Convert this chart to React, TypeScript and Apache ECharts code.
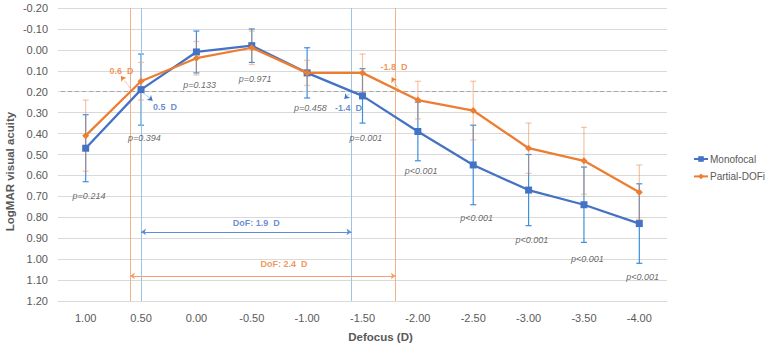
import React, { useEffect, useRef } from "react";
import * as echarts from "echarts";

// Defocus levels (D) and their axis labels
const defocus = [1.0, 0.5, 0.0, -0.5, -1.0, -1.5, -2.0, -2.5, -3.0, -3.5, -4.0];
const defocusLabels = ["1.00", "0.50", "0.00", "-0.50", "-1.00", "-1.50", "-2.00", "-2.50", "-3.00", "-3.50", "-4.00"];

// Mean LogMAR visual acuity and standard deviation per defocus level
const monofocal = [0.47, 0.19, 0.01, -0.02, 0.11, 0.22, 0.39, 0.55, 0.67, 0.74, 0.83];
const monofocalSD = [0.16, 0.17, 0.1, 0.08, 0.12, 0.13, 0.14, 0.19, 0.17, 0.18, 0.19];
const partialDofi = [0.41, 0.15, 0.04, -0.01, 0.11, 0.11, 0.24, 0.29, 0.47, 0.53, 0.68];
const partialDofiSD = [0.17, 0.09, 0.08, 0.08, 0.06, 0.09, 0.09, 0.14, 0.12, 0.16, 0.13];

// Between-group comparison at each defocus level
const pValues = ["p=0.214", "p=0.394", "p=0.133", "p=0.971", "p=0.458", "p=0.001", "p<0.001", "p<0.001", "p<0.001", "p<0.001", "p<0.001"];

// Visual acuity threshold and depth-of-focus limits (D) where each curve crosses it
const threshold = 0.2;
const monofocalLimits = [0.5, -1.4];
const partialDofiLimits = [0.6, -1.8];
const monofocalDoF = 1.9;
const partialDofiDoF = 2.4;

// y-axis range
const yMin = -0.2;
const yMax = 1.2;
const yStep = 0.1;

// ---- layout of annotations (data coordinates) ----
const pLabelY = [0.7, 0.42, 0.17, 0.14, 0.28, 0.42, 0.58, 0.805, 0.91, 1.0, 1.087];
const monoArrowY = 0.87;
const partialArrowY = 1.08;

const BLUE = "#4472C4";
const ORANGE = "#ED7D31";
const GRAY_TEXT = "#595959";
const FONT = "'Liberation Sans', Arial, sans-serif";

function errorBars(name: string, ys: number[], sd: number[], color: string, opacity: number, z: number) {
  return {
    type: "custom",
    name,
    xAxisIndex: 0,
    yAxisIndex: 0,
    silent: true,
    z,
    data: defocus.map((x, i) => [x, ys[i] - sd[i], ys[i] + sd[i]]),
    encode: { x: 0, y: [1, 2] },
    renderItem: (_params: any, api: any) => {
      const x = api.value(0);
      const top = api.coord([x, api.value(1)]);
      const bot = api.coord([x, api.value(2)]);
      const half = 3;
      const style = { stroke: color, lineWidth: 1.2, opacity };
      return {
        type: "group",
        children: [
          { type: "line", shape: { x1: top[0], y1: top[1], x2: bot[0], y2: bot[1] }, style },
          { type: "line", shape: { x1: top[0] - half, y1: top[1], x2: top[0] + half, y2: top[1] }, style },
          { type: "line", shape: { x1: bot[0] - half, y1: bot[1], x2: bot[0] + half, y2: bot[1] }, style },
        ],
      };
    },
  };
}

function vLine(x: number, color: string) {
  return [
    { coord: [x, yMin], symbol: "none", lineStyle: { color, width: 1, type: "solid" } },
    { coord: [x, yMax], symbol: "none" },
  ];
}

function hArrow(x1: number, x2: number, y: number, color: string) {
  return [
    { coord: [x1, y], symbol: "arrow", lineStyle: { color, width: 1, type: "solid" } },
    { coord: [x2, y], symbol: "arrow" },
  ];
}

function pointer(from: number[], to: number[], color: string) {
  return [
    { coord: from, symbol: "none", lineStyle: { color, width: 0.8, type: "dotted" } },
    { coord: to, symbol: "arrow" },
  ];
}

function note(x: number, y: number, text: string, color: string, extra: any = {}) {
  return {
    value: [x, y],
    label: { show: true, formatter: text, color, ...extra },
  };
}

export default function App() {
  const ref = useRef<HTMLDivElement>(null);

  useEffect(() => {
    if (!ref.current) return;
    const chart = echarts.init(ref.current, undefined, { renderer: "svg" });

    const annotations = [
      note(0.677, 0.1, `${partialDofiLimits[0].toFixed(1)}  D`, ORANGE),
      note(0.284, 0.274, `${monofocalLimits[0].toFixed(1)}  D`, BLUE),
      note(-1.373, 0.276, `${monofocalLimits[1].toFixed(1)}  D`, BLUE),
      note(-1.784, 0.083, `${partialDofiLimits[1].toFixed(1)}  D`, ORANGE),
      note(-0.54, 0.829, `DoF: ${monofocalDoF.toFixed(1)}  D`, BLUE),
      note(-0.79, 1.025, `DoF: ${partialDofiDoF.toFixed(1)}  D`, ORANGE),
    ];

    const pNotes = pValues.map((p, i) =>
      note(defocus[i] - 0.03, pLabelY[i], p, "#404040", { fontStyle: "italic", fontWeight: "normal" })
    );

    chart.setOption({
      animation: false,
      textStyle: { fontFamily: FONT },
      grid: { left: 58, right: 101, top: 8, bottom: 46, containLabel: false },
      legend: {
        data: ["Monofocal", "Partial-DOFi"],
        orient: "vertical",
        left: 693,
        top: 153,
        padding: 0,
        itemWidth: 14,
        itemHeight: 7,
        itemGap: 5.4,
        textStyle: { color: GRAY_TEXT, fontSize: 10, fontFamily: FONT, lineHeight: 12, padding: [0, 0, 0, -3] },
      },
      xAxis: [
        {
          type: "value",
          min: -4.25,
          max: 1.25,
          inverse: true,
          show: false,
        },
        {
          type: "category",
          data: defocusLabels,
          boundaryGap: true,
          position: "bottom",
          axisLine: { show: true, lineStyle: { color: "#D9D9D9", width: 1 } },
          axisTick: { show: false },
          axisLabel: { color: GRAY_TEXT, fontSize: 11, margin: 11, fontFamily: FONT },
          splitLine: { show: false },
        },
      ],
      yAxis: {
        type: "value",
        inverse: true,
        min: yMin,
        max: yMax,
        interval: yStep,
        axisLine: { show: false },
        axisTick: { show: false },
        axisLabel: {
          color: GRAY_TEXT,
          fontSize: 11,
          margin: 10,
          fontFamily: FONT,
          formatter: (v: number) => (Math.abs(v) < 1e-9 ? 0 : v).toFixed(2),
        },
        splitLine: { lineStyle: { color: "#D9D9D9", width: 1 } },
      },
      graphic: [
        {
          type: "text",
          x: 10,
          y: 171.5,
          rotation: Math.PI / 2,
          style: {
            text: "LogMAR visual acuity",
            fill: GRAY_TEXT,
            font: `bold 11.5px ${FONT}`,
            align: "center",
            verticalAlign: "middle",
          },
        },
        {
          type: "text",
          x: 380.5,
          y: 336.5,
          style: {
            text: "Defocus (D)",
            fill: GRAY_TEXT,
            font: `bold 11.5px ${FONT}`,
            align: "center",
            verticalAlign: "middle",
          },
        },
      ],
      series: [
        errorBars("Monofocal SD", monofocal, monofocalSD, "#3E8EDE", 1, 2),
        errorBars("Partial-DOFi SD", partialDofi, partialDofiSD, "#EE8A4A", 0.5, 3),
        {
          type: "line",
          name: "Monofocal",
          xAxisIndex: 0,
          yAxisIndex: 0,
          data: defocus.map((x, i) => [x, monofocal[i]]),
          color: BLUE,
          symbol: "rect",
          symbolSize: 7,
          lineStyle: { width: 2.25, color: BLUE },
          itemStyle: { color: BLUE },
          z: 5,
          markLine: {
            silent: true,
            animation: false,
            symbol: ["none", "none"],
            symbolSize: 5,
            label: { show: false },
            data: [
              { yAxis: threshold, lineStyle: { color: "#A6A6A6", width: 1.2, type: [4, 3] } },
              vLine(monofocalLimits[0], "#9DC3E6"),
              vLine(monofocalLimits[1], "#9DC3E6"),
              hArrow(monofocalLimits[0], monofocalLimits[1], monoArrowY, "#5B8FD6"),
              pointer([monofocalLimits[0] - 0.02, threshold + 0.005], [0.395, 0.243], BLUE),
              pointer([monofocalLimits[1] + 0.01, threshold + 0.005], [-1.336, 0.235], BLUE),
            ],
          },
        },
        {
          type: "line",
          name: "Partial-DOFi",
          xAxisIndex: 0,
          yAxisIndex: 0,
          data: defocus.map((x, i) => [x, partialDofi[i]]),
          color: ORANGE,
          symbol: "diamond",
          symbolSize: 7,
          lineStyle: { width: 2.25, color: ORANGE },
          itemStyle: { color: ORANGE },
          z: 6,
          markLine: {
            silent: true,
            animation: false,
            symbol: ["none", "none"],
            symbolSize: 5,
            label: { show: false },
            data: [
              vLine(partialDofiLimits[0], "#F4B183"),
              vLine(partialDofiLimits[1], "#F4B183"),
              hArrow(partialDofiLimits[0], partialDofiLimits[1], partialArrowY, "#F4A070"),
              pointer([partialDofiLimits[0], threshold - 0.018], [0.681, 0.125], ORANGE),
              pointer([partialDofiLimits[1] - 0.03, threshold - 0.008], [-1.764, 0.131], ORANGE),
            ],
          },
        },
        {
          type: "scatter",
          name: "annotations",
          xAxisIndex: 0,
          yAxisIndex: 0,
          silent: true,
          symbolSize: 0,
          z: 8,
          label: { show: true, position: "inside", fontSize: 9, fontWeight: "bold", fontFamily: FONT },
          data: annotations,
        },
        {
          type: "scatter",
          name: "p values",
          xAxisIndex: 0,
          yAxisIndex: 0,
          silent: true,
          symbolSize: 0,
          z: 8,
          label: { show: true, position: "inside", fontSize: 9, fontFamily: FONT },
          data: pNotes,
        },
      ],
    });

    return () => chart.dispose();
  }, []);

  return (
    <div
      ref={ref}
      style={{ position: "fixed", left: 0, top: 0, width: 768, height: 347, background: "#fff" }}
    />
  );
}
